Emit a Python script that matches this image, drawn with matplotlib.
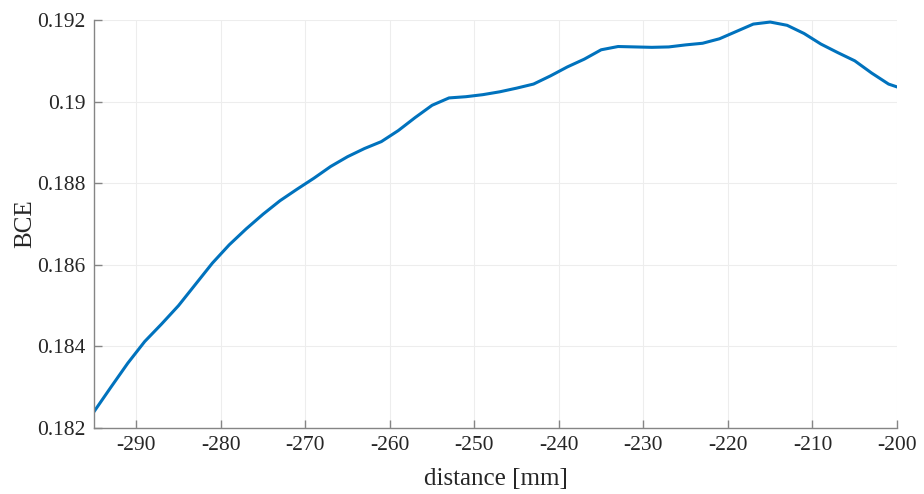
import matplotlib
matplotlib.use("Agg")
import matplotlib.pyplot as plt
import numpy as np

distance = [-295, -293, -291, -289, -287, -285, -283, -281, -279, -277,
            -275, -273, -271, -269, -267, -265, -263, -261, -259, -257,
            -255, -253, -251, -249, -247, -245, -243, -241, -239, -237,
            -235, -233, -231, -229, -227, -225, -223, -221, -219, -217,
            -215, -213, -211, -209, -207, -205, -203, -201, -200]
bce = [0.18240, 0.18300, 0.18359, 0.18412, 0.18455, 0.18500, 0.18552, 0.18604, 0.18649, 0.18688,
       0.18724, 0.18757, 0.18785, 0.18812, 0.18841, 0.18865, 0.18885, 0.18902, 0.18929, 0.18961,
       0.18991, 0.19009, 0.19012, 0.19017, 0.19024, 0.19033, 0.19043, 0.19063, 0.19085, 0.19104,
       0.19127, 0.19135, 0.19134, 0.19133, 0.19134, 0.19139, 0.19143, 0.19154, 0.19172, 0.19190,
       0.19195, 0.19187, 0.19167, 0.19141, 0.19120, 0.19100, 0.19070, 0.19043, 0.19036]

xticks = [-290, -280, -270, -260, -250, -240, -230, -220, -210, -200]
yticks = [0.182, 0.184, 0.186, 0.188, 0.190, 0.192]
ytick_labels = ["0.182", "0.184", "0.186", "0.188", "0.19", "0.192"]

plt.rcParams['font.family'] = ['Liberation Serif', 'DejaVu Serif']
fig = plt.figure(figsize=(9.24, 4.94), dpi=100)
ax = fig.add_axes([94/924, 66/494, 803/924, 408/494])
ax.plot(distance, bce, color='#0072BD', linewidth=2.2, solid_joinstyle='round')
ax.set_xlim(-295, -200)
ax.set_ylim(0.182, 0.192)
ax.set_xticks(xticks)
ax.set_xticklabels([str(t) for t in xticks])
ax.set_yticks(yticks)
ax.set_yticklabels(ytick_labels)
ax.grid(True, color='#ededed', linewidth=0.8)
ax.set_axisbelow(True)
for s in ['top', 'right']:
    ax.spines[s].set_visible(False)
for s in ['left', 'bottom']:
    ax.spines[s].set_color('#858585')
    ax.spines[s].set_linewidth(1.0)
ax.tick_params(direction='in', length=6, width=1.0, color='#858585',
               labelsize=15.5, labelcolor='#262626', pad=6)
ax.set_xlabel('distance [mm]', fontsize=18, color='#262626', labelpad=9)
ax.set_ylabel('BCE', fontsize=18, color='#262626', labelpad=1)
fig.savefig('out.png', dpi=100)
